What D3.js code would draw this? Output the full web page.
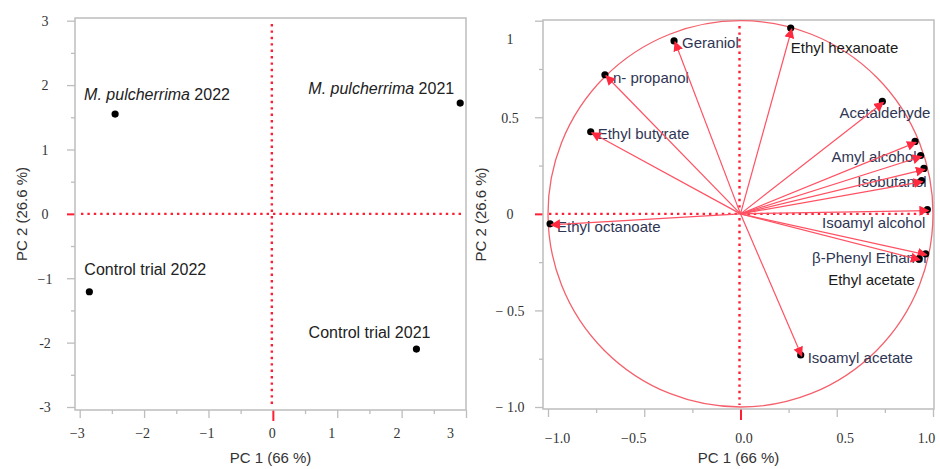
<!DOCTYPE html>
<html>
<head>
<meta charset="utf-8">
<script src="https://cdn.jsdelivr.net/npm/d3@7"></script>
<style>
  body { margin: 0; background: #fff; }
  svg { display: block; }
</style>
</head>
<body>
<svg id="chart" width="940" height="469"></svg>
<script>
// scores plot (left)
var scoreNames = ["M. pulcherrima 2022", "M. pulcherrima 2021", "Control trial 2022", "Control trial 2021"];
var scorePC1 = [-2.45, 2.91, -2.85, 2.23];
var scorePC2 = [1.55, 1.72, -1.21, -2.10];

// loadings plot (right)
var loadingNames = ["Geraniol", "Ethyl hexanoate", "n- propanol", "Ethyl butyrate", "Acetaldehyde", "",
  "Amyl alcohol", "", "Isobutanol", "Isoamyl alcohol", "β-Phenyl Ethanol", "Ethyl acetate",
  "Ethyl octanoate", "Isoamyl acetate"];
var loadingPC1 = [-0.34, 0.266, -0.699, -0.773, 0.742, 0.912, 0.941, 0.958, 0.946, 0.976, 0.967, 0.932, -0.984, 0.318];
var loadingPC2 = [0.89, 0.957, 0.715, 0.42, 0.577, 0.37, 0.297, 0.23, 0.167, 0.017, -0.212, -0.238, -0.057, -0.736];

var leftXTicks = [-3, -2, -1, 0, 1, 2, 3];
var leftXLabels = ["−3", "−2", "−1", "0", "1", "2", "3"];
var leftYTicks = [3, 2, 1, 0, -1, -2, -3];
var leftYLabels = ["3", "2", "1", "0", "−1", "-2", "-3"];
var rightTicks = [-1, -0.5, 0, 0.5, 1];
var rightXLabels = ["−1.0", "−0.5", "0.0", "0.5", "1.0"];
var rightYLabels = ["− 1.0", "− 0.5", "0", "0.5", "1"];

var svg = d3.select("#chart");
var red = "#ff1f35";
var frameColor = "#bdbdbd";
var tickFont = "'Liberation Serif', 'Times New Roman', serif";
var textFont = "'Liberation Sans', Arial, sans-serif";

function panel(opts) {
  var g = svg.append("g");
  var x = d3.scaleLinear().domain(opts.xDomain).range(opts.xRange);
  var y = d3.scaleLinear().domain(opts.yDomain).range(opts.yRange);
  var b = opts.box;

  // minor ticks
  g.append("g").attr("transform", "translate(0," + b[3] + ")")
    .call(d3.axisBottom(x).tickValues(opts.xMinor).tickSize(4).tickSizeOuter(0).tickFormat(""));
  g.append("g").attr("transform", "translate(" + b[0] + ",0)")
    .call(d3.axisLeft(y).tickValues(opts.yMinor).tickSize(4).tickSizeOuter(0).tickFormat(""));

  // major ticks
  var xa = g.append("g").attr("transform", "translate(0," + b[3] + ")")
    .call(d3.axisBottom(x).tickValues(opts.xTicks).tickSize(8).tickSizeOuter(0)
      .tickFormat(function(d, i) { return opts.xLabels[i]; }));
  var ya = g.append("g").attr("transform", "translate(" + b[0] + ",0)")
    .call(d3.axisLeft(y).tickValues(opts.yTicks).tickSize(8).tickSizeOuter(0)
      .tickFormat(function(d, i) { return opts.yLabels[i]; }));

  g.selectAll(".domain").remove();
  g.selectAll(".tick line").attr("stroke", frameColor).attr("stroke-width", 1.3);
  g.selectAll(".tick text").attr("fill", "#333").style("font-family", tickFont).style("font-size", "14px");
  // label nudges to follow the original's slightly uneven placement
  xa.selectAll(".tick text").attr("y", opts.xLabelY).attr("dy", 0)
    .attr("dx", function(d, i) { return opts.xLabelShift[i]; });
  ya.selectAll(".tick text").attr("text-anchor", "middle").attr("x", opts.yLabelX).attr("dy", "0.35em");
  xa.selectAll(".tick").filter(function(d) { return d === 0; }).select("line")
    .attr("stroke", red).attr("stroke-width", 2).attr("y2", 11);
  ya.selectAll(".tick").filter(function(d) { return d === 0; }).select("line")
    .attr("stroke", red).attr("stroke-width", 2);

  // frame
  g.append("rect").attr("x", b[0]).attr("y", b[1]).attr("width", b[2] - b[0]).attr("height", b[3] - b[1])
    .attr("fill", "none").attr("stroke", frameColor).attr("stroke-width", 1.5);

  // zero lines
  g.append("line").attr("x1", b[0] + 6).attr("x2", b[2] - 4).attr("y1", y(0)).attr("y2", y(0))
    .attr("stroke", red).attr("stroke-width", 2.4).attr("stroke-dasharray", "2.4,4");
  g.append("line").attr("x1", x(0) - 1).attr("x2", x(0) - 1).attr("y1", b[1] + 6).attr("y2", b[3] - 4)
    .attr("stroke", red).attr("stroke-width", 2.4).attr("stroke-dasharray", "2.4,4");

  // axis titles
  g.append("text").attr("x", (b[0] + b[2]) / 2).attr("y", 463).attr("text-anchor", "middle")
    .style("font-family", textFont).style("font-size", "15px").attr("fill", "#333")
    .text("PC 1 (66 %)");
  g.append("text").attr("transform", "translate(" + opts.yTitleX + "," + ((b[1] + b[3]) / 2) + ") rotate(-90)")
    .attr("text-anchor", "middle")
    .style("font-family", textFont).style("font-size", "15px").attr("fill", "#333")
    .text("PC 2 (26.6 %)");

  return { g: g, x: x, y: y, ya: ya };
}

// ---------- left: scores ----------
var L = panel({
  xDomain: [-3, 3], xRange: [79.7, 466],
  yDomain: [-3, 3], yRange: [407, 20.7],
  box: [75, 18, 466, 410],
  xTicks: leftXTicks, xLabels: leftXLabels, xMinor: d3.range(-2.5, 3, 1),
  xLabelShift: [-3, -2, -2, -1, -6, -5, -16],
  yTicks: leftYTicks, yLabels: leftYLabels, yMinor: d3.range(-2.5, 3, 1),
  xLabelY: 28, yLabelX: -30, yTitleX: 27
});

var scoreLabelPos = [
  { anchor: "start", dx: -31, dy: -14 },
  { anchor: "end", dx: -6, dy: -9 },
  { anchor: "start", dx: -5, dy: -17 },
  { anchor: "end", dx: 14, dy: -11 }
];

scoreNames.forEach(function(name, i) {
  var px = L.x(scorePC1[i]), py = L.y(scorePC2[i]);
  var p = scoreLabelPos[i];
  var t = L.g.append("text").attr("x", px + p.dx).attr("y", py + p.dy).attr("text-anchor", p.anchor)
    .style("font-family", textFont).style("font-size", "16px").attr("fill", "#222");
  var m = name.match(/^(M\. pulcherrima)(.*)$/);
  if (m) {
    t.append("tspan").style("font-style", "italic").text(m[1]);
    t.append("tspan").text(m[2]);
  } else {
    t.text(name);
  }
  L.g.append("circle").attr("cx", px).attr("cy", py).attr("r", 3.6).attr("fill", "#000");
});

// ---------- right: loadings ----------
var R = panel({
  xDomain: [-1, 1], xRange: [548, 933],
  yDomain: [-1, 1], yRange: [407, 20.7],
  box: [543, 20, 934, 409],
  xTicks: rightTicks, xLabels: rightXLabels, xMinor: d3.range(-0.75, 1, 0.5),
  xLabelShift: [9, -11, 3, 8, -7],
  yTicks: rightTicks, yLabels: rightYLabels, yMinor: d3.range(-0.75, 1, 0.5),
  xLabelY: 34, yLabelX: -33, yTitleX: 486
});
// the "1" label sits lower than its tick in the original
R.ya.selectAll(".tick").filter(function(d) { return d === 1; }).select("text").attr("dy", "1.6em");

var ox = R.x(0), oy = R.y(0);

R.g.append("ellipse").attr("cx", ox).attr("cy", oy)
  .attr("rx", R.x(1) - ox).attr("ry", oy - R.y(1))
  .attr("fill", "none").attr("stroke", "#f4616c").attr("stroke-width", 1.3);

svg.append("defs").append("marker")
  .attr("id", "arrow").attr("viewBox", "0 0 10 10").attr("refX", 9).attr("refY", 5)
  .attr("markerWidth", 10).attr("markerHeight", 10).attr("markerUnits", "userSpaceOnUse")
  .attr("orient", "auto")
  .append("path").attr("d", "M0,0L10,5L0,10z").attr("fill", "#ff2a40");

var loadLabelPos = [
  { anchor: "start", dx: 7, dy: 6 },
  { anchor: "start", dx: -1, dy: 24, dark: true },
  { anchor: "start", dx: 7, dy: 7 },
  { anchor: "start", dx: 6, dy: 6 },
  { anchor: "end", dx: 47, dy: 16 },
  { anchor: "end", dx: 0, dy: 0 },
  { anchor: "end", dx: -5, dy: 6 },
  { anchor: "end", dx: 0, dy: 0 },
  { anchor: "end", dx: 4, dy: 5 },
  { anchor: "end", dx: -3, dy: 17 },
  { anchor: "end", dx: 0, dy: 8 },
  { anchor: "end", dx: -5, dy: 25, dark: true },
  { anchor: "start", dx: 6, dy: 7 },
  { anchor: "start", dx: 6, dy: 7 }
];

loadingNames.forEach(function(name, i) {
  var px = R.x(loadingPC1[i]), py = R.y(loadingPC2[i]);
  var p = loadLabelPos[i];
  if (name) {
    R.g.append("text").attr("x", px + p.dx).attr("y", py + p.dy).attr("text-anchor", p.anchor)
      .style("font-family", textFont).style("font-size", "15px")
      .attr("fill", p.dark ? "#1a1a1a" : "#2f3654").text(name);
  }
});

loadingNames.forEach(function(name, i) {
  var px = R.x(loadingPC1[i]), py = R.y(loadingPC2[i]);
  R.g.append("circle").attr("cx", px - 1).attr("cy", py - 1).attr("r", 3.6).attr("fill", "#000");
  R.g.append("line").attr("x1", ox).attr("y1", oy).attr("x2", px).attr("y2", py)
    .attr("stroke", "#ff5163").attr("stroke-width", 1.2).attr("marker-end", "url(#arrow)");
});
</script>
</body>
</html>
